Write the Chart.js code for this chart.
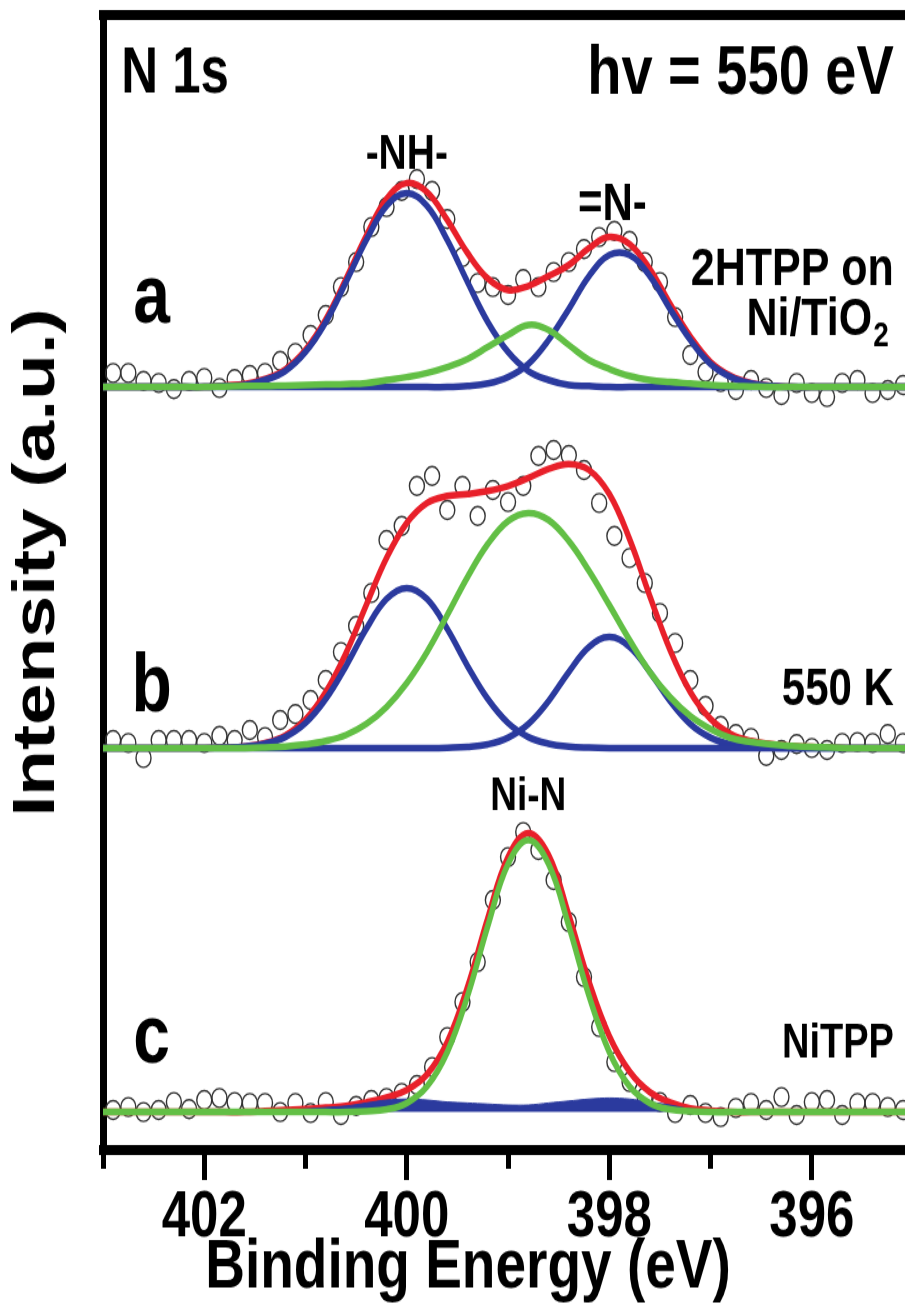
<!DOCTYPE html>
<html>
<head>
<meta charset="utf-8">
<script src="https://cdn.jsdelivr.net/npm/chart.js@4.4.1/dist/chart.umd.min.js"></script>
<style>
  html { overflow: hidden; }
  html, body { margin: 0; padding: 0; background: #fff; }
  body { width: 905px; height: 1315px; }
  /* the reference figure is stretched vertically by 1.25 */
  #wrap { width: 905px; height: 1052px; transform: scaleY(1.25); transform-origin: 0 0; }
  #xps_chart { display: block; }
</style>
</head>
<body>
<div id="wrap"><canvas id="xps_chart"></canvas></div>
<script>
// binding energies (eV) of the measured points and of the fit curves
const dataE = [402.9, 402.75, 402.6, 402.45, 402.3, 402.15, 402.0, 401.85, 401.7, 401.55,
  401.4, 401.25, 401.1, 400.95, 400.8, 400.65, 400.5, 400.35, 400.2, 400.05,
  399.9, 399.75, 399.6, 399.45, 399.3, 399.15, 399.0, 398.85, 398.7, 398.55,
  398.4, 398.25, 398.1, 397.95, 397.8, 397.65, 397.5, 397.35, 397.2, 397.05,
  396.9, 396.75, 396.6, 396.45, 396.3, 396.15, 396.0, 395.85, 395.7, 395.55,
  395.4, 395.25, 395.1]
const curveE = [403.0, 402.8, 402.6, 402.4, 402.2, 402.0, 401.8, 401.6, 401.4, 401.2,
  401.0, 400.8, 400.6, 400.4, 400.2, 400.0, 399.8, 399.6, 399.4, 399.2,
  399.0, 398.8, 398.6, 398.4, 398.2, 398.0, 397.8, 397.6, 397.4, 397.2,
  397.0, 396.8, 396.6, 396.4, 396.2, 396.0, 395.8, 395.6, 395.4, 395.2, 395.0]

// vertical offsets of the stacked spectra (a.u.)
const offsetA = 763
const offsetB = 402
const offsetC = 38

// a: 2HTPP on Ni/TiO2
const pointsA = [14, 14, 6, 4, -2, 6, 9, -1, 8, 12, 14, 26, 34, 52, 72, 100, 125, 160, 180, 196,
  208, 196, 168, 130, 104, 100, 92, 108, 100, 115, 125, 138, 150, 156, 146, 125, 105, 70, 32, 15,
  5, -3, 7, -1, -8, 4, -6, -10, 4, 7, -6, -3, 2]
const envelopeA = [0, 0, 0, 0, 0, 0, 1.5, 3, 8, 17.5, 37, 67.5, 108, 151, 188, 204, 195, 167, 134, 108.5,
  97, 101, 111, 122, 139, 150, 143, 118, 83, 50.5, 25, 11, 4, 1, 0, 0, 0, 0, 0, 0, 0]
const nhA = [0, 0, 0, 0, 0, 0, 1, 2, 7, 16, 35, 65, 105, 147, 181, 194, 181, 147, 105, 65,
  35, 16, 7, 2, 1, 0, 0, 0, 0, 0, 0, 0, 0, 0, 0, 0, 0, 0, 0, 0, 0]
const iminoA = [0, 0, 0, 0, 0, 0, 0, 0, 0, 0, 0, 0, 0, 0, 0, 0, 0, 0, 1, 3.5,
  10, 23, 47, 78, 111, 132, 132, 111, 78, 47, 23, 10, 3.5, 1, 0, 0, 0, 0, 0, 0, 0]
const niNA = [0, 0, 0, 0, 0, 0, 0.5, 1, 1, 1.5, 2, 2.5, 3, 4, 7, 10, 14, 20, 28, 40,
  52, 62, 57, 42, 27, 18, 11, 7, 5, 3.5, 2, 1, 0.5, 0, 0, 0, 0, 0, 0, 0, 0]

// b: 550 K
const pointsB = [8, 5, -10, 8, 8, 8, 5, 12, 8, 18, 11, 28, 34, 48, 68, 96, 122, 155, 208, 222,
  262, 272, 238, 262, 232, 258, 246, 262, 292, 298, 293, 278, 245, 212, 190, 165, 135, 105, 68, 42,
  22, 14, 10, -8, -2, 4, 0, -2, 5, 6, 5, 14, 5]
const envelopeB = [0, 0, 0, 0, 0, 0, 0.4, 1.4, 4.9, 12.5, 28.5, 56, 95, 143, 190, 225, 245, 252, 254, 257,
  262, 270, 279, 284, 278, 254, 209, 152, 98, 56, 29, 14, 7, 4, 2, 1, 0.5, 0, 0, 0, 0]
const nhB = [0, 0, 0, 0, 0, 0, 0.4, 1.4, 4.3, 11, 25, 49, 82, 119, 149, 160, 149, 119, 82, 49,
  25, 11, 4.3, 1.4, 0.4, 0, 0, 0, 0, 0, 0, 0, 0, 0, 0, 0, 0, 0, 0, 0, 0]
const iminoB = [0, 0, 0, 0, 0, 0, 0, 0, 0, 0, 0, 0, 0, 0, 0, 0, 0, 0.3, 1.1, 3.7,
  10.4, 24, 47, 76, 101, 111, 101, 76, 47, 24, 10.4, 3.7, 1.1, 0.3, 0, 0, 0, 0, 0, 0, 0]
const niNB = [0, 0, 0, 0, 0, 0, 0, 0, 0.6, 1.5, 3.5, 7, 13, 24, 41, 65, 96, 133, 171, 204,
  227, 235, 228, 207, 177, 143, 108, 76, 51, 32, 19, 10, 6, 3.5, 2, 1, 0.5, 0, 0, 0, 0]

// c: NiTPP
const pointsC = [2, 5, 0, 2, 10, 3, 12, 14, 10, 9, 9, 0, 9, -1, 10, -3, 6, 12, 14, 19,
  27, 45, 75, 110, 150, 212, 255, 280, 262, 232, 190, 135, 85, 50, 30, 15, 10, -1, 7, -1,
  -5, 4, 9, 2, 15, -3, 10, 12, -3, 9, 9, 5, 2]
const envelopeC = [0, 0, 0, 0, 0, 0, 0, 0, 1, 2, 3, 4.5, 6, 9.7, 14.6, 22, 37.6, 70, 125, 194,
  255, 279, 257, 197, 130, 76, 40.6, 20, 9.6, 3.7, 1.5, 0, 0, 0, 0, 0, 0, 0, 0, 0, 0]
const residualC = [0, 0, 0, 0, 0, 0, 0, 0, 1, 2, 3, 4.5, 6, 9, 12, 13, 12, 10, 9, 8,
  7, 7, 9, 11, 13, 14, 13, 10, 7, 3, 1.5, 0, 0, 0, 0, 0, 0, 0, 0, 0, 0]
const niNC = [0, 0, 0, 0, 0, 0, 0, 0, 0, 0, 0, 0, 0, 0.7, 2.6, 9, 25.6, 60, 116, 186,
  248, 272, 248, 186, 116, 60, 25.6, 9, 2.6, 0.7, 0, 0, 0, 0, 0, 0, 0, 0, 0, 0, 0]

const RED = '#e8202a'
const BLUE = '#2b3a9e'
const GREEN = '#62bf45'
const sans = "'Liberation Sans', Arial, sans-serif"

const pts = (es, vals, off) => vals.map((v, i) => ({ x: es[i], y: v + off }))

function points (vals, off) {
  return {
    data: pts(dataE, vals, off),
    showLine: false,
    pointRadius: 7.5,
    pointBorderWidth: 1.4,
    pointBorderColor: '#333',
    pointBackgroundColor: 'rgba(0,0,0,0)',
    order: 5
  }
}

function curve (vals, off, color, order) {
  return {
    data: pts(curveE, vals, off),
    borderColor: color,
    borderWidth: 5.5,
    pointRadius: 0,
    tension: 0.4,
    fill: false,
    order: order
  }
}

const residual = {
  data: pts(curveE, residualC, offsetC),
  borderColor: BLUE,
  backgroundColor: BLUE,
  borderWidth: 1,
  pointRadius: 0,
  tension: 0.3,
  fill: { value: offsetC },
  order: 3
}

const notes = [
  { text: 'N 1s', e: 402.82, v: 1075, align: 'left', size: 51 },
  { text: 'hv = 550 eV', e: 395.19, v: 1075, align: 'right', size: 56 },
  { text: '-NH-', e: 400.0, v: 995, align: 'center', size: 39 },
  { text: '=N-', e: 397.97, v: 945, align: 'center', size: 42 },
  { text: '2HTPP on', e: 395.19, v: 880, align: 'right', size: 43 },
  { text: 'Ni/TiO', sub: '2', e: 395.25, v: 830, align: 'right', size: 43 },
  { text: 'a', e: 402.52, v: 850, align: 'center', size: 66 },
  { text: 'b', e: 402.52, v: 462, align: 'center', size: 66 },
  { text: '550 K', e: 395.19, v: 460, align: 'right', size: 42 },
  { text: 'Ni-N', e: 398.8, v: 353, align: 'center', size: 37 },
  { text: 'c', e: 402.52, v: 110, align: 'center', size: 66 },
  { text: 'NiTPP', e: 395.19, v: 105, align: 'right', size: 38 }
]

// axis titles (canvas px before the vertical stretch)
const xTitle = { text: 'Binding Energy (eV)', x: 468, y: 1015, size: 55 }
const yTitle = { text: 'Intensity (a.u.)', x: 37, y: 450, size: 60 }

const notePlugin = {
  id: 'notes',
  afterDatasetsDraw (chart) {
    const { ctx, scales } = chart
    ctx.save()
    ctx.fillStyle = '#000'
    ctx.textBaseline = 'middle'
    notes.forEach(n => {
      const px = scales.x.getPixelForValue(n.e)
      const py = scales.y.getPixelForValue(n.v)
      ctx.font = 'bold ' + n.size + 'px ' + sans
      if (n.sub) {
        const w1 = ctx.measureText(n.text).width
        ctx.font = 'bold ' + Math.round(n.size * 0.65) + 'px ' + sans
        const w2 = ctx.measureText(n.sub).width
        const start = px - w1 - w2
        ctx.textAlign = 'left'
        ctx.fillText(n.sub, start + w1 + 1, py + n.size * 0.3)
        ctx.font = 'bold ' + n.size + 'px ' + sans
        ctx.fillText(n.text, start, py)
      } else {
        ctx.textAlign = n.align
        ctx.fillText(n.text, px, py)
      }
    })
    ctx.textAlign = 'center'
    ctx.font = 'bold ' + xTitle.size + 'px ' + sans
    ctx.fillText(xTitle.text, xTitle.x, xTitle.y)
    ctx.translate(yTitle.x, yTitle.y)
    ctx.rotate(-Math.PI / 2)
    ctx.font = 'bold ' + yTitle.size + 'px ' + sans
    ctx.fillText(yTitle.text, 0, 0)
    ctx.restore()
  }
}

const isMinor = c => c.tick && Math.round(c.tick.value) % 2 !== 0

new Chart(document.getElementById('xps_chart'), {
  type: 'line',
  data: {
    datasets: [
      points(pointsA, offsetA), points(pointsB, offsetB), points(pointsC, offsetC),
      curve(envelopeA, offsetA, RED, 4), curve(envelopeB, offsetB, RED, 4), curve(envelopeC, offsetC, RED, 4),
      curve(nhA, offsetA, BLUE, 3), curve(iminoA, offsetA, BLUE, 3),
      curve(nhB, offsetB, BLUE, 3), curve(iminoB, offsetB, BLUE, 3),
      residual,
      curve(niNA, offsetA, GREEN, 1), curve(niNB, offsetB, GREEN, 1), curve(niNC, offsetC, GREEN, 1)
    ]
  },
  options: {
    responsive: true,
    maintainAspectRatio: false,
    animation: false,
    layout: { padding: 0, autoPadding: false },
    plugins: { legend: { display: false }, tooltip: { enabled: false } },
    scales: {
      x: {
        type: 'linear',
        position: 'bottom',
        reverse: true,
        min: 395.08,
        max: 403,
        afterFit: s => { s.height = 132 },
        border: { display: true, width: 8, color: '#000' },
        grid: {
          drawOnChartArea: false,
          tickLength: 24,
          tickWidth: 5,
          tickColor: '#000',
          tickBorderDash: c => isMinor(c) ? [11, 60] : []
        },
        ticks: {
          stepSize: 1,
          includeBounds: false,
          autoSkip: false,
          maxRotation: 0,
          padding: 0,
          color: '#000',
          font: { family: sans, size: 51, weight: 'bold' },
          callback: v => Math.round(v) % 2 === 0 ? String(Math.round(v)) : ''
        }
      },
      xTop: {
        type: 'linear',
        axis: 'x',
        position: 'top',
        reverse: true,
        min: 395.08,
        max: 403,
        afterFit: s => { s.height = 12 },
        border: { display: true, width: 8, color: '#000' },
        grid: { drawOnChartArea: false, drawTicks: false },
        ticks: { display: false }
      },
      y: {
        type: 'linear',
        position: 'left',
        min: 0,
        max: 1135,
        afterFit: s => { s.width = 103 },
        border: { display: true, width: 7, color: '#000' },
        grid: { drawOnChartArea: false, drawTicks: false },
        ticks: { display: false }
      }
    }
  },
  plugins: [notePlugin]
})
</script>
</body>
</html>
